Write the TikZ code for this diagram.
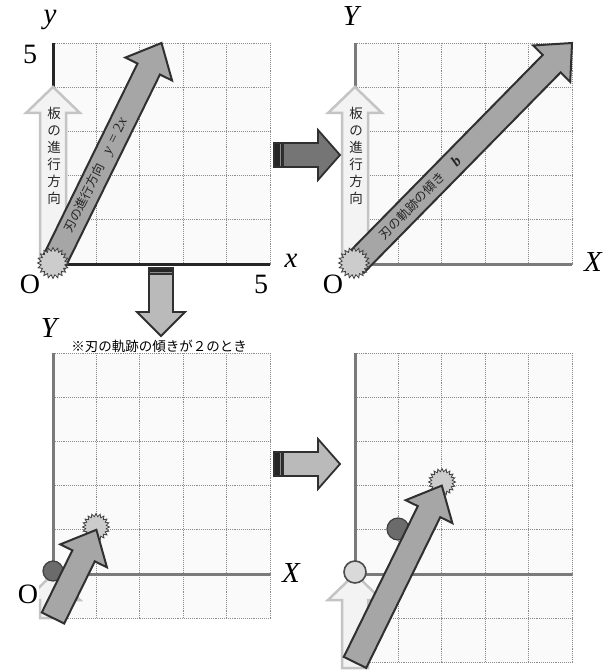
\documentclass[tikz,border=0pt]{standalone}
\usepackage{fontspec}
\setmainfont{Liberation Serif}
\newfontfamily\jp{Noto Sans CJK JP}
\usetikzlibrary{calc,shapes.geometric}
\definecolor{gridc}{HTML}{8C8C8C}
\definecolor{bigfill}{HTML}{A6A6A6}
\definecolor{edge}{HTML}{303030}
\definecolor{litefill}{HTML}{F3F3F3}
\definecolor{liteedge}{HTML}{C4C4C4}
\definecolor{axgray}{HTML}{7A7A7A}
\tikzset{
  gridln/.style={densely dotted, draw=gridc, line width=0.9pt},
  panelbg/.style={fill=black!2},
  bigarr/.style={fill=bigfill, draw=edge, line width=2pt, line join=miter},
  litearr/.style={fill=litefill, draw=liteedge, line width=2.5pt, line join=miter},
  darkconn/.style={fill=black!54, draw=edge, line width=1.8pt, line join=miter},
  liteconn/.style={fill=black!27, draw=edge, line width=1.8pt, line join=miter},
  band/.style={fill=black!85, draw=edge, line width=1.2pt},
  burst/.style={star, star points=20, star point ratio=1.3, inner sep=0pt, fill=black!20, draw=black!75, line width=0.8pt},
  darkdot/.style={circle, minimum size=20pt, inner sep=0pt, fill=black!58, draw=black!75, line width=1.2pt},
  litedot/.style={circle, minimum size=22pt, inner sep=0pt, fill=black!15, draw=black!70, line width=1.6pt},
  axlab/.style={font=\fontsize{29}{29}\selectfont\itshape, inner sep=0pt},
  numlab/.style={font=\fontsize{28}{28}\selectfont, inner sep=0pt},
  arrtext/.style={font=\jp\fontsize{12.5}{12.5}\selectfont, text=black!85, inner sep=0pt},
  vtext/.style={font=\jp\fontsize{13.5}{17}\selectfont, align=center, text=black!85, inner sep=0pt},
}
\newcommand\lat[1]{{\rmfamily\fontsize{15}{15}\selectfont #1}}
% #1 style, #2 tail, #3 tip, #4 shaft half-width, #5 head half-width, #6 head length
\newcommand\blockarrow[6]{%
  \coordinate (bh) at ($(#3)!#6!(#2)$);
  \filldraw[#1] ($(#2)!#4!90:(#3)$) -- ($(bh)!#4!-90:(#2)$) -- ($(bh)!#5!-90:(#2)$)
    -- (#3) -- ($(bh)!#5!90:(#2)$) -- ($(bh)!#4!90:(#2)$) -- ($(#2)!#4!-90:(#3)$) -- cycle;
}
% #1 left x, #2 top y, #3 rows
\newcommand\gridpanel[3]{%
  \fill[panelbg] (#1,#2) rectangle ({#1+5*43.4},{#2+#3*44.2});
  \foreach \i in {0,...,5} \draw[gridln] ({#1+\i*43.4},#2) -- ({#1+\i*43.4},{#2+#3*44.2});
  \foreach \j in {0,...,#3} \draw[gridln] (#1,{#2+\j*44.2}) -- ({#1+5*43.4},{#2+\j*44.2});
}
\begin{document}
\begin{tikzpicture}[x=1pt,y=-1pt]
\useasboundingbox (0,0) rectangle (610,671);
\fill[white] (0,0) rectangle (610,671);

% ---------- top-left panel ----------
\gridpanel{53}{43}{5}
\coordinate (O1) at (53,264);
\coordinate (Y1) at (53,43);
\coordinate (X1) at (270,264);
\draw[line width=3pt, draw=black!85] (Y1) -- (O1) -- (X1);
\coordinate (L1) at (53,87);
\blockarrow{litearr}{O1}{L1}{13pt}{27pt}{26pt}
\node[vtext] (t1) at (54,156) {板\\の\\進\\行\\方\\向};
\coordinate (T1) at (161.5,43);
\blockarrow{bigarr}{O1}{T1}{12.5pt}{26pt}{29pt}
\path (O1) -- (T1) node[arrtext, sloped, pos=0.4] (s1) {刃の進行方向\hspace{1em}\lat{\itshape y = \upshape 2\itshape x}};
\node[burst, minimum size=31pt] (b1) at (53,263) {};
\node[axlab] (ly) at (50,20) {y};
\node[numlab] (l5a) at (30,54) {5};
\node[axlab] (lx) at (291,261) {x};
\node[numlab] (l5b) at (261,284) {5};
\node[numlab] (lo1) at (30,284) {O};

% ---------- top-right panel ----------
\gridpanel{355}{43}{5}
\coordinate (O2) at (355,264);
\coordinate (Y2) at (355,43);
\coordinate (X2) at (572,264);
\draw[line width=3pt, draw=axgray] (Y2) -- (O2) -- (X2);
\coordinate (L2) at (355,87);
\blockarrow{litearr}{O2}{L2}{13pt}{27pt}{26pt}
\node[vtext] (t2) at (356,156) {板\\の\\進\\行\\方\\向};
\coordinate (T2) at (572,43);
\blockarrow{bigarr}{O2}{T2}{12.5pt}{26pt}{29pt}
\path (O2) -- (T2) node[arrtext, sloped, pos=0.3] (s2) {刃の軌跡の傾き\hspace{1.2em}\lat{\bfseries\itshape b}};
\node[burst, minimum size=31pt] (b2) at (354,263) {};
\node[axlab] (lY2) at (351,16) {Y};
\node[axlab] (lX2) at (593,262) {X};
\node[numlab] (lo2) at (333,284) {O};

% ---------- connector arrows ----------
\coordinate (ca1) at (274,155);
\coordinate (cb1) at (340,155);
\blockarrow{darkconn}{ca1}{cb1}{12pt}{25pt}{22pt}
\filldraw[band] (274,143) rectangle (283,167);
\draw[black!45, line width=0.8pt] (280,144) -- (280,166);

\coordinate (ca2) at (161,268);
\coordinate (cb2) at (161,336);
\blockarrow{liteconn}{ca2}{cb2}{12pt}{24pt}{24pt}
\filldraw[band] (149,268) rectangle (173,274);
\draw[black!45, line width=0.8pt] (150,272) -- (172,272);

\coordinate (ca3) at (274,464);
\coordinate (cb3) at (340,464);
\blockarrow{liteconn}{ca3}{cb3}{12pt}{25pt}{22pt}
\filldraw[band] (274,452) rectangle (283,476);
\draw[black!45, line width=0.8pt] (280,453) -- (280,475);

\node[font=\jp\fontsize{13.5}{13.5}\selectfont, inner sep=0pt] (cap) at (159,346) {※刃の軌跡の傾きが２のとき};

% ---------- bottom-left panel ----------
\gridpanel{53}{353}{6}
\coordinate (O3) at (53,574);
\coordinate (Y3) at (53,353);
\coordinate (X3) at (270,574);
\draw[line width=3pt, draw=axgray] (Y3) -- (O3) -- (X3);
\coordinate (B3) at (53,618);
\blockarrow{litearr}{B3}{O3}{13pt}{27pt}{26pt}
\node[darkdot] (d3) at (53,571) {};
\node[numlab, fill=white, inner sep=1pt] (lo3) at (28,594) {O};
\node[burst, minimum size=27pt] (b3) at (96,527) {};
\coordinate (A3) at (53,618);
\coordinate (T3) at (96.4,529.8);
\blockarrow{bigarr}{A3}{T3}{12.5pt}{26pt}{29pt}
\node[axlab] (lY3) at (49,328) {Y};
\node[axlab] (lX3) at (291,573) {X};

% ---------- bottom-right panel ----------
\gridpanel{355}{353}{7}
\coordinate (O4) at (355,574);
\coordinate (Y4) at (355,353);
\coordinate (X4) at (572,574);
\draw[line width=3pt, draw=axgray] (Y4) -- (O4) -- (X4);
\coordinate (B4) at (355,668);
\blockarrow{litearr}{B4}{O4}{13pt}{27pt}{26pt}
\node[litedot] (c4) at (355,572) {};
\node[darkdot, minimum size=22pt] (d4) at (398,529) {};
\node[burst, minimum size=27pt] (b4) at (442,482) {};
\coordinate (A4) at (355,662.4);
\coordinate (T4) at (441.8,485.6);
\blockarrow{bigarr}{A4}{T4}{12.5pt}{26pt}{29pt}
\end{tikzpicture}
\end{document}
